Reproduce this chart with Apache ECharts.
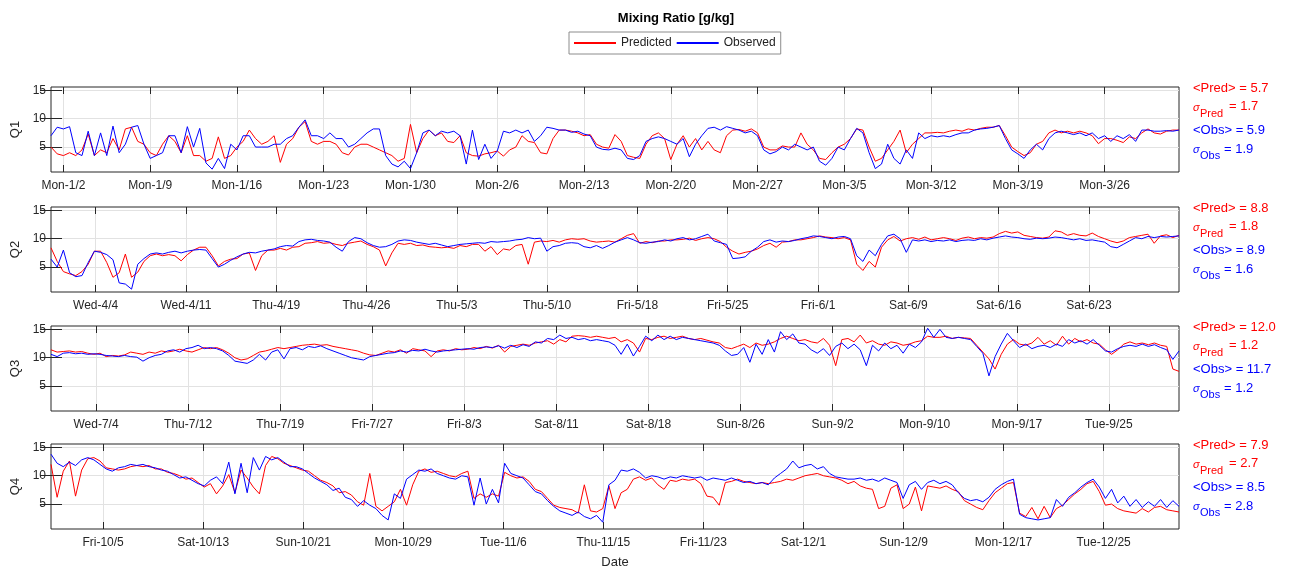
<!DOCTYPE html>
<html><head><meta charset="utf-8">
<script src="https://cdn.jsdelivr.net/npm/echarts@6/dist/echarts.min.js"></script>
<style>html,body{margin:0;padding:0;background:#fff}#c{width:1290px;height:570px}</style>
</head><body><div id="c"></div><script>
// ---- data (values every 0.5 day from the start of each quarter, 2012) ----
const STEP_DAYS = 0.5;
const quarterNames = ['Q1', 'Q2', 'Q3', 'Q4'];
const quarterLengthDays = [91, 91, 92, 92];

const q1Obs = [7.0,8.5,8.2,8.6,4.0,3.5,7.8,3.5,7.5,3.5,
8.7,4.0,5.5,8.5,8.8,5.5,3.0,3.5,4.0,7.0,
7.0,4.0,8.6,5.0,8.3,2.2,1.1,3.0,1.2,5.5,
4.5,7.0,7.0,5.0,5.0,5.0,5.5,5.5,6.5,7.0,
8.5,9.8,7.0,7.0,6.5,7.5,6.5,6.5,5.0,5.5,
6.5,7.5,8.2,8.2,3.5,2.0,1.5,2.5,1.2,4.0,
7.5,8.0,7.0,7.8,7.5,7.8,7.0,2.0,8.0,2.8,
5.5,3.0,4.3,7.8,7.5,8.0,7.5,8.0,6.0,7.0,
8.5,8.3,8.0,8.0,7.6,7.8,7.3,7.0,5.0,4.6,
4.5,4.8,4.5,3.0,2.8,3.5,6.0,6.5,6.8,6.5,
6.0,5.5,6.5,3.3,5.5,7.0,8.3,8.5,8.0,8.6,
8.3,8.0,7.5,7.8,7.0,4.5,3.8,4.2,5.0,4.5,
5.5,5.0,4.5,5.0,2.5,1.8,3.0,5.0,4.5,6.5,
8.3,7.5,4.0,1.2,2.0,5.5,3.0,2.0,4.5,3.0,
7.5,6.5,7.0,6.8,7.0,6.8,7.2,7.5,7.5,8.0,
8.2,8.3,8.5,8.8,6.5,4.5,3.8,3.0,4.5,5.5,
4.5,6.5,7.5,7.8,7.5,7.2,7.5,7.0,7.5,6.5,
7.0,6.0,7.0,6.5,7.2,6.0,8.0,8.0,7.8,7.8,
7.9,7.8,8.0];
const q1Pred = [5.0,3.8,3.5,4.0,3.5,4.5,7.3,3.5,4.5,4.0,
6.5,4.5,8.2,8.5,6.0,5.5,4.0,3.5,5.5,7.0,
6.0,4.0,7.0,3.5,3.5,2.5,3.0,6.8,3.0,3.5,
5.0,6.0,8.0,6.5,5.5,6.0,7.0,2.3,5.5,6.5,
8.5,9.5,6.0,5.5,6.0,6.0,5.5,4.0,3.6,5.0,
5.5,5.5,5.0,4.5,4.0,3.5,2.5,3.0,9.0,4.0,
6.5,8.0,7.0,7.5,6.0,5.8,7.0,4.0,3.5,3.4,
3.8,4.0,4.3,3.4,4.5,5.0,7.0,6.0,5.8,4.0,
3.8,6.5,8.0,8.0,7.8,7.5,7.0,7.2,5.5,5.0,
4.8,7.2,6.0,3.5,3.2,3.0,5.5,7.0,7.5,6.5,
2.8,5.5,7.0,5.0,6.5,4.5,6.0,4.5,4.0,7.0,
8.0,8.1,7.8,8.2,7.5,5.0,4.5,4.5,5.2,5.0,
5.0,7.5,5.5,4.5,3.0,2.8,4.0,5.0,5.5,6.5,
8.2,8.0,5.0,2.5,3.0,4.5,6.0,8.0,4.0,5.5,
6.5,7.5,7.5,7.6,7.5,7.8,8.0,7.8,8.2,8.0,
8.3,8.5,8.5,8.8,7.0,5.0,4.2,3.5,4.0,5.5,
6.0,7.5,8.0,7.5,7.8,7.5,7.8,7.5,7.0,5.6,
6.5,6.5,6.2,5.8,6.8,6.5,7.5,8.2,7.5,7.3,
7.8,8.0,8.0];

const q2Obs = [6.4,5.0,8.0,4.0,3.3,3.5,5.8,7.8,7.6,7.2,
6.3,2.2,2.0,1.1,5.5,6.5,7.3,7.5,7.3,7.6,
7.8,7.5,7.8,8.0,8.1,8.0,6.5,5.0,5.5,6.2,
6.8,7.3,7.6,7.5,7.8,8.0,8.2,8.6,8.8,8.7,
9.5,9.8,9.9,9.7,9.6,9.4,8.5,7.8,9.5,10.2,
10.0,9.3,8.8,8.5,8.6,9.0,9.6,9.8,9.7,9.4,
9.2,9.0,9.2,8.9,8.6,8.8,9.0,9.1,9.2,9.3,
9.2,9.5,9.4,9.5,9.6,9.8,9.9,10.2,10.0,10.1,
7.8,8.6,8.8,9.2,9.3,9.2,8.6,8.4,8.8,8.3,
8.8,9.4,9.8,10.2,9.8,9.3,9.2,9.4,9.5,9.8,
9.6,10.0,10.2,9.8,10.0,10.4,10.8,9.6,9.3,9.0,
6.5,6.6,6.8,7.8,8.5,9.5,9.8,9.4,9.6,9.5,
9.7,10.0,10.2,10.5,10.4,10.2,10.0,10.3,10.4,10.0,
7.0,6.0,8.0,7.0,9.0,10.5,10.8,10.0,7.6,9.8,
9.6,9.8,9.5,9.7,9.6,9.8,9.5,9.7,9.8,9.7,
10.0,9.8,10.1,10.3,10.5,10.3,10.2,10.0,9.9,10.1,
10.0,10.1,10.3,10.2,10.0,9.8,10.0,9.7,9.8,9.6,
9.4,8.6,8.4,9.0,9.6,10.2,10.0,10.4,10.2,10.4,
10.3,10.4,10.5];
const q2Pred = [8.4,6.0,4.2,3.8,3.5,4.2,5.5,7.8,7.8,5.8,
3.2,4.0,7.3,3.2,4.1,6.0,7.0,7.3,7.0,7.2,
7.0,6.1,7.2,8.0,8.5,8.5,7.0,5.2,6.0,6.4,
6.5,7.3,7.5,4.4,7.0,8.0,8.0,8.3,8.0,8.5,
8.6,9.2,9.3,9.5,9.2,9.3,9.0,8.8,9.2,9.4,
9.6,9.0,8.6,8.0,5.2,7.5,9.2,9.0,9.2,8.8,
8.9,8.6,8.5,8.4,8.5,8.3,8.8,8.6,9.0,9.0,
7.8,8.6,7.2,8.2,8.0,8.8,9.0,5.5,9.4,9.6,
9.5,9.7,9.4,9.8,10.0,9.9,10.0,9.6,9.4,9.5,
9.6,9.4,10.0,10.6,10.9,9.2,9.5,9.3,9.6,9.6,
9.8,9.8,9.9,10.1,9.7,10.0,10.2,10.0,9.5,8.5,
7.8,7.3,7.6,7.8,8.2,8.8,9.2,8.5,9.4,9.5,
9.8,9.8,10.0,10.2,10.5,10.3,10.2,10.0,10.2,9.8,
5.5,4.4,6.0,5.0,8.5,9.8,10.4,9.6,10.0,10.2,
9.9,10.3,9.8,10.0,10.2,10.0,9.7,10.1,10.3,10.0,
10.2,10.1,10.3,10.9,11.3,11.0,11.2,10.6,10.4,10.2,
10.1,10.3,11.4,11.2,10.6,10.9,10.6,10.5,11.0,10.4,
10.0,9.6,9.3,9.6,10.2,10.4,10.6,10.8,9.2,10.5,
10.7,10.2,10.6];

const q3Obs = [10.6,10.2,10.8,10.9,10.7,10.8,10.6,10.7,10.6,10.4,
10.3,10.2,10.4,10.2,10.1,9.4,10.0,10.4,10.6,11.2,
11.4,11.0,11.6,11.8,12.2,11.6,11.8,11.6,11.2,10.4,
9.4,9.2,9.0,9.6,10.6,9.6,11.0,11.4,9.8,11.6,
11.8,11.4,12.0,11.8,12.1,11.6,11.2,10.8,10.4,10.0,
9.8,9.6,10.2,10.4,10.6,10.8,10.9,11.2,11.0,11.3,
11.2,11.5,11.2,11.0,11.2,11.3,11.4,11.5,11.6,11.5,
11.8,11.9,11.8,12.1,11.7,12.2,11.8,12.3,12.0,12.8,
12.6,13.4,13.2,14.0,13.4,13.6,13.2,13.4,13.0,13.2,
13.0,12.8,12.2,10.6,12.4,10.3,12.0,13.8,13.0,14.0,
13.2,13.8,13.2,13.6,13.4,13.2,13.0,12.8,12.6,12.2,
11.2,10.4,10.6,11.8,9.2,12.4,10.6,13.2,11.0,14.6,
13.2,14.2,12.6,12.4,11.4,10.8,11.6,10.4,12.0,12.6,
11.6,12.4,11.4,8.6,12.2,11.2,12.6,11.6,12.2,10.8,
12.4,11.8,12.8,15.2,13.6,15.0,13.6,13.4,13.6,13.4,
13.2,12.0,10.8,6.8,10.2,12.4,14.3,13.0,11.8,12.4,
11.6,12.0,12.2,11.8,12.4,12.0,13.2,12.6,13.0,12.4,
13.2,12.2,11.2,11.0,11.6,12.0,12.2,12.0,12.4,12.0,
12.3,11.8,11.4,9.7,11.2];
const q3Pred = [11.4,11.0,11.1,11.2,11.0,11.1,10.8,10.6,10.8,10.2,
10.4,10.3,10.5,11.0,10.8,10.6,11.0,10.8,11.2,11.0,
11.2,11.5,11.2,11.0,11.4,11.8,11.6,11.8,11.4,10.8,
10.0,9.6,9.8,10.4,11.0,11.2,11.5,11.8,11.6,11.8,
12.0,12.2,12.3,12.4,12.2,12.3,12.0,11.8,11.6,11.4,
11.2,10.8,10.5,10.4,10.8,11.2,11.0,11.4,10.8,11.6,
11.4,11.2,10.2,11.2,11.4,11.2,11.6,11.4,11.5,11.8,
11.6,12.0,11.7,12.2,11.0,12.0,12.2,12.4,12.2,12.6,
12.8,13.0,12.4,13.2,12.8,13.8,13.9,13.8,13.6,13.8,
13.6,13.4,13.6,12.8,13.2,12.6,11.0,13.4,13.2,13.6,
13.8,13.4,13.6,13.8,13.4,13.2,13.4,13.1,12.8,12.6,
11.8,11.6,12.0,12.4,11.8,12.6,12.2,12.4,12.8,13.4,
13.8,13.4,13.0,13.2,12.8,12.6,13.4,12.2,8.6,13.2,
13.4,12.8,14.0,12.6,13.0,12.4,12.2,12.8,12.6,12.2,
12.4,12.8,13.0,13.8,13.6,13.6,13.8,13.4,13.6,13.5,
13.4,12.2,11.0,9.8,8.0,10.6,12.4,13.2,12.4,12.2,
12.6,13.6,12.4,13.0,12.2,13.8,12.4,13.4,12.8,13.2,
12.6,12.4,11.4,10.6,11.4,12.4,12.8,12.4,12.6,12.3,
12.6,12.2,12.0,8.0,7.6];

const q4Obs = [13.8,12.2,11.6,12.4,11.8,12.8,13.2,12.8,12.0,11.2,
10.8,11.4,11.6,12.0,11.8,12.0,11.6,11.4,11.0,10.8,
10.2,9.6,9.8,9.2,8.6,8.2,9.2,9.8,8.6,12.4,
6.8,12.2,7.0,13.2,11.0,13.4,12.8,13.2,12.4,11.6,
11.6,11.2,10.4,9.6,9.0,8.4,7.4,7.8,6.2,5.8,
4.6,5.6,4.8,4.2,3.0,2.2,6.8,6.0,9.4,10.2,
11.0,10.8,11.2,10.4,10.0,9.6,9.4,10.0,9.8,4.8,
9.6,5.0,7.6,5.2,12.2,10.4,10.0,9.6,8.4,7.2,
6.8,5.6,4.6,3.8,3.4,3.0,3.6,2.8,2.4,3.0,
1.8,8.4,9.2,11.0,10.8,11.2,10.6,9.6,10.0,9.8,
9.4,9.8,9.6,10.0,9.8,9.6,9.8,9.2,9.6,9.4,
9.2,9.6,9.2,8.8,9.0,8.6,8.8,8.4,9.6,10.4,
11.2,12.6,11.4,11.8,12.0,11.2,11.6,10.4,9.8,9.6,
9.4,9.4,9.6,9.2,9.4,9.0,9.6,9.2,8.8,6.0,
8.4,9.0,7.6,8.8,9.2,8.6,9.0,8.4,7.0,6.0,
5.6,5.8,5.4,6.2,7.6,8.4,9.0,9.4,3.2,2.6,
2.4,2.2,2.4,2.6,5.8,4.6,6.2,7.0,8.0,8.8,
9.4,8.0,6.0,7.6,5.2,6.4,4.6,5.8,4.4,5.4,
4.6,5.8,4.4,5.6,4.6];
const q4Pred = [12.0,6.2,10.8,12.6,6.4,11.0,13.0,13.2,12.6,11.4,
11.2,11.0,11.2,11.6,11.8,11.6,11.8,11.2,11.2,10.6,
10.4,10.0,9.4,9.6,8.8,8.0,8.6,6.8,8.2,10.2,
7.0,11.0,9.6,8.0,6.8,11.8,13.4,13.0,12.2,11.8,
11.4,11.0,10.8,10.0,9.2,8.8,8.2,7.0,7.2,6.6,
5.4,4.8,10.4,4.6,3.8,4.6,5.4,7.6,4.8,8.4,
10.8,11.2,10.6,10.8,10.4,10.0,9.8,10.4,10.8,6.0,
6.8,6.2,6.8,6.4,10.6,10.0,9.6,9.8,9.0,7.6,
7.2,6.0,4.8,4.4,4.2,4.0,3.4,8.4,3.8,3.6,
4.2,8.2,4.2,7.0,7.6,9.4,9.8,9.2,9.6,8.4,
7.6,9.2,9.0,9.4,9.2,9.4,8.6,6.4,6.2,4.8,
8.8,9.0,9.4,9.0,8.8,8.6,8.8,8.6,8.8,9.0,
9.4,9.2,9.6,10.0,10.2,10.4,10.0,9.8,9.6,9.2,
8.6,9.0,8.2,7.8,7.6,4.2,4.6,7.8,8.4,4.2,
5.0,8.0,3.8,8.2,8.0,7.8,8.2,7.6,7.2,5.6,
5.0,4.4,4.0,5.6,7.0,7.8,8.6,8.8,3.4,2.8,
4.4,2.4,4.6,2.6,4.2,4.8,5.8,6.8,7.6,8.6,
9.0,7.2,4.8,5.0,4.2,3.8,3.6,3.4,4.2,3.6,
4.4,4.6,4.0,3.8,3.6];

// tick positions (days from quarter start) and their labels
const q1TickDays = [1,8,15,22,29,36,43,50,57,64,71,78,85];
const q1TickLabels = ['Mon-1/2','Mon-1/9','Mon-1/16','Mon-1/23','Mon-1/30','Mon-2/6','Mon-2/13','Mon-2/20','Mon-2/27','Mon-3/5','Mon-3/12','Mon-3/19','Mon-3/26'];
const q2TickDays = [3.6,10.88,18.17,25.45,32.74,40.02,47.31,54.59,61.88,69.16,76.45,83.73];
const q2TickLabels = ['Wed-4/4','Wed-4/11','Thu-4/19','Thu-4/26','Thu-5/3','Thu-5/10','Fri-5/18','Fri-5/25','Fri-6/1','Sat-6/9','Sat-6/16','Sat-6/23'];
const q3TickDays = [3.67,11.18,18.69,26.2,33.71,41.22,48.73,56.24,63.75,71.26,78.77,86.28];
const q3TickLabels = ['Wed-7/4','Thu-7/12','Thu-7/19','Fri-7/27','Fri-8/3','Sat-8/11','Sat-8/18','Sun-8/26','Sun-9/2','Mon-9/10','Mon-9/17','Tue-9/25'];
const q4TickDays = [4.25,12.41,20.57,28.73,36.89,45.05,53.21,61.37,69.53,77.69,85.85];
const q4TickLabels = ['Fri-10/5','Sat-10/13','Sun-10/21','Mon-10/29','Tue-11/6','Thu-11/15','Fri-11/23','Sat-12/1','Sun-12/9','Mon-12/17','Tue-12/25'];
const yTickValues = [5, 10, 15];

const meanPred = [5.7, 8.8, 12.0, 7.9];
const sigmaPred = [1.7, 1.8, 1.2, 2.7];
const meanObs = [5.9, 8.9, 11.7, 8.5];
const sigmaObs = [1.9, 1.6, 1.2, 2.8];

// ---- chart ----
const predSeries = [q1Pred, q2Pred, q3Pred, q4Pred];
const obsSeries = [q1Obs, q2Obs, q3Obs, q4Obs];
const tickDays = [q1TickDays, q2TickDays, q3TickDays, q4TickDays];
const tickLabels = [q1TickLabels, q2TickLabels, q3TickLabels, q4TickLabels];

const FONT = 'Liberation Sans, Arial, sans-serif';
const AX = '#262626';
const GRIDC = '#e2e2e2';
const RED = '#ff0000', BLUE = '#0000ff';
const tops = [87, 207, 326, 444];
const PH = 85, PL = 51, PW = 1128;
const YMIN = 0.6, YMAX = 15.6;

const toPairs = arr => arr.map((v, i) => [i * STEP_DAYS, v]);

const grids = [], xAxes = [], yAxes = [], series = [], graphics = [];
for (let q = 0; q < 4; q++) {
  grids.push({left: PL, top: tops[q], width: PW, height: PH, show: true,
    borderColor: AX, borderWidth: 1, backgroundColor: 'rgba(0,0,0,0)'});
  const ticks = tickDays[q], labels = tickLabels[q];
  xAxes.push({type: 'value', gridIndex: q, min: 0, max: quarterLengthDays[q], position: 'bottom',
    axisLine: {show: false},
    axisTick: {show: true, inside: true, length: 7, customValues: ticks, lineStyle: {color: AX, width: 1}},
    axisLabel: {show: true, customValues: ticks, margin: 8, color: AX, fontSize: 12, fontFamily: FONT,
      formatter: v => { const k = ticks.findIndex(t => Math.abs(t - v) < 1e-6); return k >= 0 ? labels[k] : ''; }},
    splitLine: {show: true, lineStyle: {color: GRIDC, width: 1}}});
  xAxes.push({type: 'value', gridIndex: q, min: 0, max: quarterLengthDays[q], position: 'top',
    axisLine: {show: false},
    axisTick: {show: true, inside: true, length: 7, customValues: ticks, lineStyle: {color: AX, width: 1}},
    axisLabel: {show: false}, splitLine: {show: false}});
  yAxes.push({type: 'value', gridIndex: q, min: YMIN, max: YMAX, position: 'left',
    name: quarterNames[q], nameLocation: 'middle', nameGap: 25, nameRotate: 90,
    nameTextStyle: {fontSize: 13, color: AX, fontFamily: FONT},
    axisLine: {show: false},
    axisTick: {show: true, inside: true, length: 11, customValues: yTickValues, lineStyle: {color: AX}},
    axisLabel: {show: true, customValues: yTickValues, margin: 5, color: AX, fontSize: 12, fontFamily: FONT},
    splitLine: {show: true, lineStyle: {color: GRIDC, width: 1}}});
  yAxes.push({type: 'value', gridIndex: q, min: YMIN, max: YMAX, position: 'right',
    axisLine: {show: false},
    axisTick: {show: true, inside: true, length: 11, customValues: yTickValues, lineStyle: {color: AX}},
    axisLabel: {show: false}, splitLine: {show: false}});
  series.push({name: 'Predicted', type: 'line', xAxisIndex: 2 * q, yAxisIndex: 2 * q,
    data: toPairs(predSeries[q]), showSymbol: false, symbol: 'none', color: RED,
    lineStyle: {color: RED, width: 1}, z: 3, silent: true});
  series.push({name: 'Observed', type: 'line', xAxisIndex: 2 * q, yAxisIndex: 2 * q,
    data: toPairs(obsSeries[q]), showSymbol: false, symbol: 'none', color: BLUE,
    lineStyle: {color: BLUE, width: 1}, z: 4, silent: true});

  const t = tops[q];
  const sx = 1193;
  graphics.push({type: 'text', x: sx, y: t + 1, style: {text: '<Pred> = ' + meanPred[q].toFixed(1), fill: RED, fontSize: 13, fontFamily: FONT, align: 'left', verticalAlign: 'middle'}});
  graphics.push({type: 'text', x: sx, y: t + 21, style: {text: 'σ', fill: RED, fontSize: 11, fontStyle: 'italic', fontFamily: FONT, align: 'left', verticalAlign: 'middle'}});
  graphics.push({type: 'text', x: sx + 7, y: t + 27, style: {text: 'Pred', fill: RED, fontSize: 11, fontFamily: FONT, align: 'left', verticalAlign: 'middle'}});
  graphics.push({type: 'text', x: sx + 36, y: t + 19, style: {text: '= ' + sigmaPred[q].toFixed(1), fill: RED, fontSize: 13, fontFamily: FONT, align: 'left', verticalAlign: 'middle'}});
  graphics.push({type: 'text', x: sx, y: t + 43, style: {text: '<Obs> = ' + meanObs[q].toFixed(1), fill: BLUE, fontSize: 13, fontFamily: FONT, align: 'left', verticalAlign: 'middle'}});
  graphics.push({type: 'text', x: sx, y: t + 63, style: {text: 'σ', fill: BLUE, fontSize: 11, fontStyle: 'italic', fontFamily: FONT, align: 'left', verticalAlign: 'middle'}});
  graphics.push({type: 'text', x: sx + 7, y: t + 69, style: {text: 'Obs', fill: BLUE, fontSize: 11, fontFamily: FONT, align: 'left', verticalAlign: 'middle'}});
  graphics.push({type: 'text', x: sx + 31, y: t + 62, style: {text: '= ' + sigmaObs[q].toFixed(1), fill: BLUE, fontSize: 13, fontFamily: FONT, align: 'left', verticalAlign: 'middle'}});
}
graphics.push({type: 'text', x: 676, y: 18, style: {text: 'Mixing Ratio [g/kg]', fill: '#000', fontSize: 13, fontWeight: 'bold', fontFamily: FONT, align: 'center', verticalAlign: 'middle'}});
graphics.push({type: 'text', x: 615, y: 562, style: {text: 'Date', fill: AX, fontSize: 13, fontFamily: FONT, align: 'center', verticalAlign: 'middle'}});

const chart = echarts.init(document.getElementById('c'), null, {renderer: 'canvas'});
chart.setOption({
  animation: false,
  backgroundColor: '#fff',
  legend: {data: ['Predicted', 'Observed'], left: 569, top: 32, itemWidth: 42, itemHeight: 2, icon: 'rect',
    itemGap: 5, padding: [5, 5, 5, 5], borderColor: '#8c8c8c', borderWidth: 1, selectedMode: false,
    textStyle: {fontSize: 12, color: '#222', fontFamily: FONT}},
  grid: grids, xAxis: xAxes, yAxis: yAxes, series: series, graphic: graphics
});
</script></body></html>
